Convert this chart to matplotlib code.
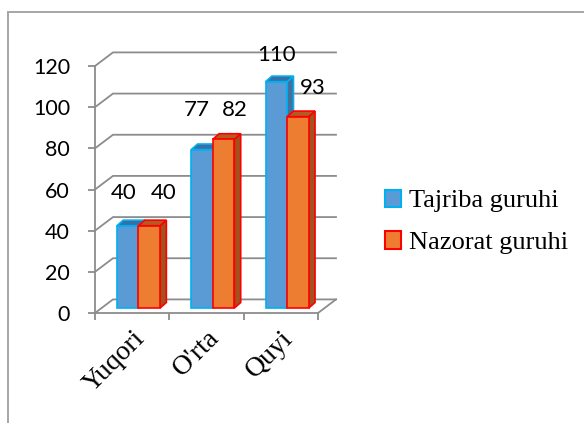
import matplotlib
matplotlib.use('Agg')
import matplotlib.pyplot as plt
from matplotlib.patches import Polygon, Rectangle, Patch
from matplotlib.font_manager import FontProperties

categories = ["Yuqori", "O'rta", "Quyi"]
tajriba = [40, 77, 110]
nazorat = [40, 82, 93]
series_names = ["Tajriba guruhi", "Nazorat guruhi"]
y_ticks = [0, 20, 40, 60, 80, 100, 120]

W, H, DPI = 584, 423, 100
fig = plt.figure(figsize=(W / DPI, H / DPI), dpi=DPI)
ax = fig.add_axes([95 / W, 1 - 313 / H, 223 / W, 247 / H])
ax.set_xlim(0, 3)
ax.set_ylim(0, 120)

GRID = '#8c8c8c'
LW = 1.3
# back wall offset (data units)
BX, BY = 0.242, 6.6
# bar placement depth offset
DX, DY = 0.085, 2.4
# bar own depth
SX, SY = 0.085, 2.7
BW = 0.29

# back wall gridlines + side wall diagonals
for v in y_ticks:
    ax.plot([0, BX, 3 + BX], [v, v + BY, v + BY], color=GRID, lw=LW,
            clip_on=False, zorder=1, solid_joinstyle='miter')
ax.plot([3, 3 + BX], [0, BY], color=GRID, lw=LW, clip_on=False, zorder=1)

series = [
    (tajriba, '#5B9BD5', '#41719C', '#3A6EA5', '#00B0F0'),
    (nazorat, '#ED7D31', '#A0521F', '#B35C22', '#FF0000'),
]

z = 3
for i in range(len(categories)):
    c = i + 0.5
    for j, (vals, face, side, top, edge) in enumerate(series):
        val = vals[i]
        x0 = c - BW + j * BW + DX
        x1 = x0 + BW
        y0 = DY
        y1 = DY + val
        ax.add_patch(Polygon([(x1, y0), (x1 + SX, y0 + SY), (x1 + SX, y1 + SY), (x1, y1)],
                             closed=True, facecolor=side, edgecolor=edge, lw=1.2,
                             clip_on=False, zorder=z, joinstyle='miter'))
        ax.add_patch(Polygon([(x0, y1), (x0 + SX, y1 + SY), (x1 + SX, y1 + SY), (x1, y1)],
                             closed=True, facecolor=top, edgecolor=edge, lw=1.2,
                             clip_on=False, zorder=z, joinstyle='miter'))
        ax.add_patch(Rectangle((x0, y0), BW, val, facecolor=face, edgecolor=edge,
                               lw=1.2, clip_on=False, zorder=z + 1, joinstyle='miter'))
        z += 2

# data labels
lab_font = dict(family='Lato', size=16)
nudges = [[(-0.05, 18.5), (0.2, 18.5)], [(-0.07, 21.5), (0.15, 16.5)], [(0.0, 15.5), (0.2, 16.5)]]
for i in range(len(categories)):
    c = i + 0.5
    for j, (vals, *_r) in enumerate(series):
        xc = c - BW + j * BW + DX + BW / 2
        nx, ny = nudges[i][j]
        ax.text(xc + nx, vals[i] + ny, str(vals[i]), ha='center', va='center',
                fontdict=lab_font, zorder=50, clip_on=False)

for s in ['top', 'right']:
    ax.spines[s].set_visible(False)
for s in ['left', 'bottom']:
    ax.spines[s].set_color(GRID)
    ax.spines[s].set_linewidth(LW)
ax.patch.set_visible(False)

ax.set_yticks(y_ticks)
ax.set_yticklabels([str(t) for t in y_ticks], fontdict=dict(family='Lato', size=15.5))
ax.tick_params(axis='y', length=5, width=LW, color=GRID, pad=13)

ax.set_xticks([i + 0.5 for i in range(len(categories))])
ax.set_xticklabels(categories, rotation=45, ha='right', rotation_mode='anchor',
                   family='Liberation Serif', fontsize=20)
ax.set_xticks([0, 1, 2, 3], minor=True)
ax.tick_params(axis='x', which='major', length=0, pad=9)
ax.tick_params(axis='x', which='minor', length=5, width=LW, color=GRID)

handles = [Patch(facecolor=s[1], edgecolor=s[4], lw=1.5) for s in series]
fig.legend(handles, series_names, loc='center left', bbox_to_anchor=(385 / W, 1 - 222 / H),
           frameon=False, prop=FontProperties(family='Liberation Serif', size=19),
           handlelength=0.62, handleheight=0.62, handletextpad=0.3, labelspacing=0.72,
           borderaxespad=0, borderpad=0)

fig.add_artist(Rectangle((8 / W, -0.05), 1.2, 1 - 12 / H + 0.05, transform=fig.transFigure,
                         fill=False, edgecolor='#a6a6a6', lw=1.4))

fig.savefig('out.png', dpi=DPI)
